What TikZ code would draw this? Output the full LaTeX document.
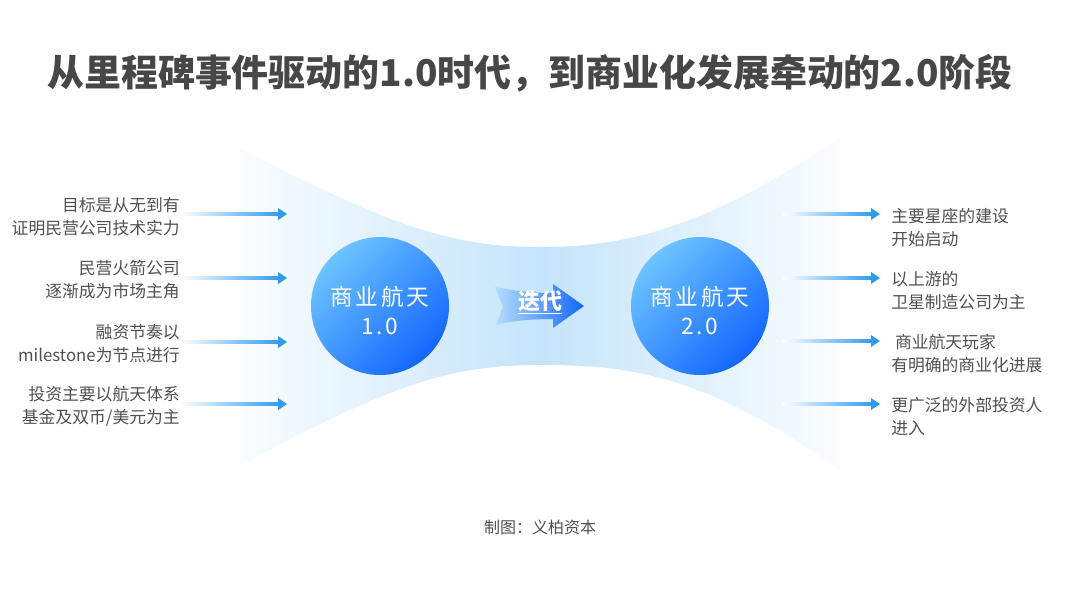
\documentclass[tikz,border=0pt]{standalone}
\usepackage{fontspec}
\setmainfont{Noto Sans CJK SC}
\usepackage{xcolor}
\usepackage{tikz}
\usetikzlibrary{calc, positioning}

\definecolor{titlegray}{HTML}{474747}
\definecolor{textgray}{HTML}{505050}
\definecolor{bandblue}{HTML}{C4E4FA}
\definecolor{arrowblue}{HTML}{2E9BF2}
\definecolor{hublight}{HTML}{6CC4FF}
\definecolor{hubdark}{HTML}{1466FF}
\definecolor{iterlight}{HTML}{B4DEFC}

% thin arrow that fades in from white
\newcommand{\flowarrow}[2]{%
  \shade[left color=white, right color=arrowblue] ($(#1)+(0,-1.6)$) rectangle ($(#2)+(-7,1.6)$);
  \fill[arrowblue] ($(#2)+(-9,6)$) -- (#2) -- ($(#2)+(-9,-6)$) -- cycle;}

\begin{document}
\begin{tikzpicture}[x=0.75pt, y=0.75pt,
  heading/.style={text=titlegray, font=\fontsize{27.7pt}{32pt}\selectfont\bfseries},
  hub/.style={circle, minimum size=103.5pt, inner sep=0pt, top color=hublight, bottom color=hubdark, shading angle=45, text=white, align=center, font=\fontsize{17pt}{21.75pt}\selectfont\addfontfeatures{LetterSpace=12}},
  iter/.style={text=white, font=\fontsize{16.5pt}{18pt}\selectfont\bfseries},
  leftnote/.style={anchor=east, inner sep=0pt, align=right, text=textgray, font=\fontsize{12.6pt}{17.25pt}\selectfont},
  rightnote/.style={anchor=west, inner sep=0pt, align=left, text=textgray, font=\fontsize{12.6pt}{17.25pt}\selectfont},
  source/.style={text=textgray, font=\fontsize{12pt}{14pt}\selectfont}]

\useasboundingbox (0,0) rectangle (1080,-608);

% Title
\node[heading] (title) at (530,-73) {从里程碑事件驱动的1.0时代，到商业化发展牵动的2.0阶段};

% Band behind the two stages
\shade[left color=bandblue!8, right color=bandblue!8, middle color=bandblue]
  (240,-148) .. controls (400,-232) and (460,-247) .. (540,-247)
  .. controls (620,-247) and (700,-232) .. (840,-138) -- (840,-470)
  .. controls (700,-370) and (620,-365) .. (540,-365)
  .. controls (460,-365) and (400,-378) .. (240,-466) -- cycle;

% Stages
\node[hub] (v1) at (380,-306) {\rule{0pt}{21pt}商业航天\\1.0};
\node[hub] (v2) at (700,-306) {\rule{0pt}{21pt}商业航天\\2.0};

% Iteration arrow
\shade[left color=iterlight, right color=hubdark]
  (495,-287) .. controls (520,-292) and (540,-293) .. (553,-293) -- (553,-284)
  -- (584,-306) -- (553,-328) -- (553,-319)
  .. controls (530,-319) and (510,-321) .. (496,-325) -- (503,-307) -- cycle;
\node[iter] (it) at (540,-302) {\underline{迭代}};

% Left notes
\node[leftnote] (l1) at (180,-216.5) {目标是从无到有\\证明民营公司技术实力};
\node[leftnote] (l2) at (180,-280) {民营火箭公司\\逐渐成为市场主角};
\node[leftnote] (l3) at (180,-344) {融资节奏以\\milestone为节点进行};
\node[leftnote] (l4) at (180,-406.5) {投资主要以航天体系\\基金及双币/美元为主};

\coordinate (la1) at (287,-214);
\coordinate (la2) at (287,-278);
\coordinate (la3) at (287,-342);
\coordinate (la4) at (287,-404);

\flowarrow{l1.east |- la1}{la1}
\flowarrow{l2.east |- la2}{la2}
\flowarrow{l3.east |- la3}{la3}
\flowarrow{l4.east |- la4}{la4}

% Right notes
\coordinate (rs1) at (782,-214);
\coordinate (rs2) at (782,-278);
\coordinate (rs3) at (782,-341);
\coordinate (rs4) at (782,-404);
\coordinate (rt1) at (880,-214);
\coordinate (rt2) at (880,-278);
\coordinate (rt3) at (880,-341);
\coordinate (rt4) at (880,-404);

\flowarrow{rs1}{rt1}
\flowarrow{rs2}{rt2}
\flowarrow{rs3}{rt3}
\flowarrow{rs4}{rt4}

\node[rightnote] (r1) at (891,-227.5) {主要星座的建设\\开始启动};
\node[rightnote] (r2) at (891,-291) {以上游的\\卫星制造公司为主};
\node[rightnote] (r3) at (891,-354) {~商业航天玩家\\有明确的商业化进展};
\node[rightnote] (r4) at (891,-417) {更广泛的外部投资人\\进入};

% Source
\node[source] (src) at (540,-527) {制图：义柏资本};

\end{tikzpicture}
\end{document}
